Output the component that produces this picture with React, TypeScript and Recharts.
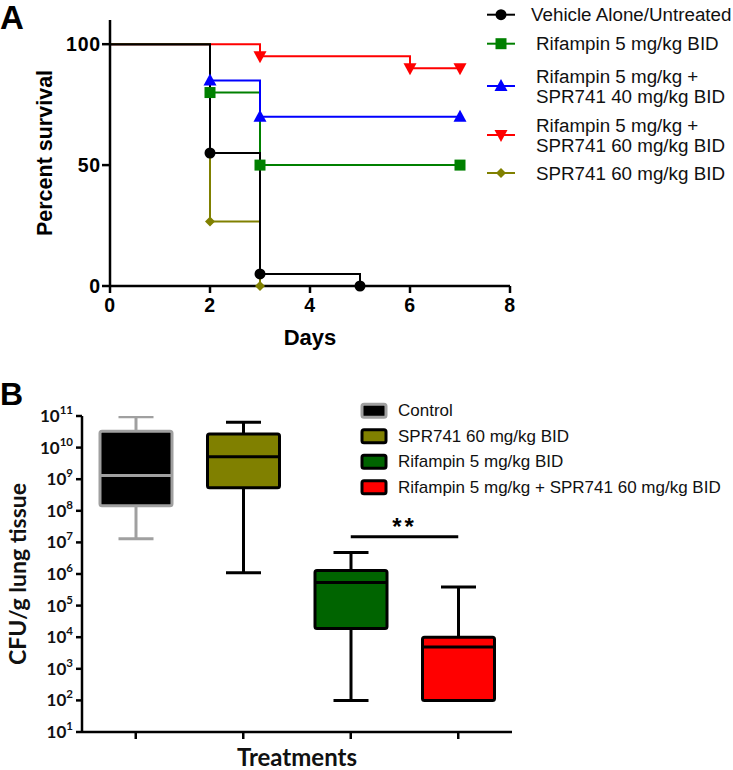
import React from "react";
import { LineChart, Line, XAxis, YAxis, BarChart, Bar, ReferenceLine } from "recharts";

// ---- Panel A: survival ----
const dayTicks = [0, 2, 4, 6, 8];
const survivalTicks = [0, 50, 100];

const vehicleDays = [0, 2, 3, 5];
const vehicleSurvival = [100, 55, 5, 0];
const rif5Days = [0, 2, 3, 7];
const rif5Survival = [100, 80, 50, 50];
const rifSpr40Days = [0, 2, 3, 7];
const rifSpr40Survival = [100, 85, 70, 70];
const rifSpr60Days = [0, 3, 6, 7];
const rifSpr60Survival = [100, 95, 90, 90];
const spr60Days = [0, 2, 3];
const spr60Survival = [100, 26.7, 0];

const survivalSeries = [
  { key: "vehicle", label: ["Vehicle Alone/Untreated"], days: vehicleDays, survival: vehicleSurvival, color: "#000000", marker: "circle" },
  { key: "rif5", label: ["Rifampin 5 mg/kg BID"], days: rif5Days, survival: rif5Survival, color: "#008000", marker: "square" },
  { key: "rifSpr40", label: ["Rifampin 5 mg/kg +", "SPR741 40 mg/kg BID"], days: rifSpr40Days, survival: rifSpr40Survival, color: "#0000ff", marker: "triangle" },
  { key: "rifSpr60", label: ["Rifampin 5 mg/kg +", "SPR741 60 mg/kg BID"], days: rifSpr60Days, survival: rifSpr60Survival, color: "#ff0000", marker: "triangleDown" },
  { key: "spr60", label: ["SPR741 60 mg/kg BID"], days: spr60Days, survival: spr60Survival, color: "#808000", marker: "diamond" },
];
const drawOrder = [1, 2, 3, 4, 0];

// ---- Panel B: CFU box plot ----
const treatments = ["Control", "SPR741 60 mg/kg BID", "Rifampin 5 mg/kg BID", "Rifampin 5 mg/kg + SPR741 60 mg/kg BID"];
const cfuMin = [1.3e7, 1.1e6, 1e2, 1e2];
const cfuQ1 = [1.45e8, 5.4e8, 1.9e4, 1e2];
const cfuMedian = [1.3e9, 5.1e9, 5.4e5, 4.9e3];
const cfuQ3 = [3.3e10, 2.7e10, 1.3e6, 1.0e4];
const cfuMax = [9.5e10, 6.3e10, 4.8e6, 3.9e5];
const boxFill = ["#000000", "#808000", "#006400", "#ff0000"];
const boxStroke = ["#a0a0a0", "#000000", "#000000", "#000000"];
const cfuTicks = [1e1, 1e2, 1e3, 1e4, 1e5, 1e6, 1e7, 1e8, 1e9, 1e10, 1e11];
const sigPair = [treatments[2], treatments[3]];
const sigLevel = 1.5e7;
const sigText = "**";

const arial = "'Liberation Sans', Arial, sans-serif";
const calibri = "Lato, 'Open Sans', sans-serif";

function Marker({ cx, cy, type, color }: { cx: number; cy: number; type: string; color: string }) {
  if (type === "circle") return <circle cx={cx} cy={cy} r={5.5} fill={color} />;
  if (type === "square") return <rect x={cx - 5.5} y={cy - 5.5} width={11} height={11} fill={color} />;
  if (type === "triangle")
    return <polygon points={`${cx},${cy - 7} ${cx - 6.5},${cy + 5} ${cx + 6.5},${cy + 5}`} fill={color} />;
  if (type === "triangleDown")
    return <polygon points={`${cx},${cy + 7} ${cx - 6.5},${cy - 5} ${cx + 6.5},${cy - 5}`} fill={color} />;
  return <polygon points={`${cx},${cy - 5} ${cx + 5},${cy} ${cx},${cy + 5} ${cx - 5},${cy}`} fill={color} />;
}

function SurvivalLegend() {
  const rowY = [14.7, 43.7, 86, 135, 173];
  return (
    <svg width={733} height={200} style={{ position: "absolute", left: 0, top: 0, pointerEvents: "none" }}>
      {survivalSeries.map((s, i) => (
        <g key={s.key}>
          <line x1={487} x2={515} y1={rowY[i]} y2={rowY[i]} stroke={s.color} strokeWidth={2} />
          <Marker cx={501} cy={rowY[i]} type={s.marker} color={s.color} />
          {s.label.map((t, j) => (
            <text
              key={j}
              x={i === 0 ? 531 : 536}
              y={rowY[i] + (s.label.length === 2 ? (j === 0 ? -10 : 10) : 0)}
              dominantBaseline="central"
              fontFamily={arial}
              fontSize={18.8}
              fill="#111"
            >
              {t}
            </text>
          ))}
        </g>
      ))}
    </svg>
  );
}

function CfuLegend() {
  const rowY = [410.7, 436.2, 461.7, 487.2];
  return (
    <svg width={733} height={770} style={{ position: "absolute", left: 0, top: 0, pointerEvents: "none" }}>
      {treatments.map((t, i) => (
        <g key={t}>
          <rect x={362} y={rowY[i] - 6.5} width={24} height={13} rx={2} fill={boxFill[i]} stroke={boxStroke[i]} strokeWidth={3} />
          <text x={398} y={rowY[i]} dominantBaseline="central" fontFamily={arial} fontSize={17} fill="#111">
            {t}
          </text>
        </g>
      ))}
    </svg>
  );
}

function PowerTick(props: any) {
  const { x, y, payload } = props;
  const exp = Math.round(Math.log10(payload.value));
  return (
    <text x={x} y={y + 6} textAnchor="end" fontFamily={calibri} fontWeight="bold" fontSize={17} fill="#111">
      10
      <tspan dy={-8} fontSize={11.5}>
        {exp}
      </tspan>
    </text>
  );
}

function BoxShape(props: any) {
  const { x, y, width, height, index } = props;
  const top = Math.min(y, y + height);
  const bottom = Math.max(y, y + height);
  const hi = Math.log10(cfuMax[index]);
  const lo = Math.log10(cfuMin[index]);
  // log scale: interpolate inside the pixel span that recharts gave for [min, max]
  const yOf = (v: number) => top + ((hi - Math.log10(v)) / (hi - lo)) * (bottom - top);
  const cx = x + width / 2;
  const stroke = boxStroke[index];
  const yQ1 = yOf(cfuQ1[index]);
  const yQ3 = yOf(cfuQ3[index]);
  const yMed = yOf(cfuMedian[index]);
  return (
    <g>
      <line x1={cx} x2={cx} y1={top} y2={yQ3} stroke={stroke} strokeWidth={3} />
      <line x1={cx} x2={cx} y1={yQ1} y2={bottom} stroke={stroke} strokeWidth={3} />
      <line x1={cx - 17.5} x2={cx + 17.5} y1={top} y2={top} stroke={stroke} strokeWidth={3} />
      <line x1={cx - 17.5} x2={cx + 17.5} y1={bottom} y2={bottom} stroke={stroke} strokeWidth={3} />
      <rect x={x} y={yQ3} width={width} height={yQ1 - yQ3} rx={2} fill={boxFill[index]} stroke={stroke} strokeWidth={3} />
      <line x1={x} x2={x + width} y1={yMed} y2={yMed} stroke={stroke} strokeWidth={3} />
    </g>
  );
}

export default function App() {
  const cfuData = treatments.map((name, i) => ({ name, range: [cfuMin[i], cfuMax[i]] }));
  const emptyDot = (p: any) => <g key={`e-${p.index}`} />;

  return (
    <div style={{ position: "absolute", left: 0, top: 0, width: 733, height: 770, background: "#fff", overflow: "hidden" }}>
      <div style={{ position: "absolute", left: 0, top: 0 }}>
        <LineChart width={733} height={360} margin={{ top: 20, right: 223, left: 0, bottom: 14 }}>
          <XAxis
            dataKey="x"
            type="number"
            domain={[0, 8]}
            ticks={dayTicks}
            allowDuplicatedCategory={false}
            stroke="#000"
            strokeWidth={2.5}
            tickSize={7}
            tickMargin={5}
            height={60}
            tick={{ fill: "#000", fontFamily: arial, fontWeight: "bold", fontSize: 19.5, letterSpacing: 0.8 }}
            label={{ value: "Days", position: "insideBottom", offset: 1, fill: "#000", fontFamily: arial, fontWeight: "bold", fontSize: 22 }}
          />
          <YAxis
            type="number"
            domain={[0, 110]}
            ticks={survivalTicks}
            stroke="#000"
            strokeWidth={2.5}
            width={110}
            tickSize={8}
            tickMargin={1}
            tick={{ fill: "#000", fontFamily: arial, fontWeight: "bold", fontSize: 19.5, letterSpacing: 0.8 }}
            label={{
              value: "Percent survival",
              angle: -90,
              position: "insideLeft",
              offset: 44,
              fill: "#000",
              fontFamily: arial,
              fontWeight: "bold",
              fontSize: 21.5,
              style: { textAnchor: "middle" },
            }}
          />
          {drawOrder.map((k) => {
            const s = survivalSeries[k];
            const pts = s.days.map((d, i) => ({ x: d, y: s.survival[i] }));
            return (
              <Line
                key={s.key}
                data={pts}
                dataKey="y"
                type="stepAfter"
                stroke={s.color}
                strokeWidth={2}
                isAnimationActive={false}
                activeDot={false}
                dot={(p: any) =>
                  p.index === 0 ? emptyDot(p) : (
                    <g key={`d-${p.index}`}>
                      <Marker cx={p.cx} cy={p.cy} type={s.marker} color={s.color} />
                    </g>
                  )
                }
              />
            );
          })}
        </LineChart>
      </div>
      <SurvivalLegend />

      <div style={{ position: "absolute", left: 0, top: 380 }}>
        <BarChart width={733} height={390} data={cfuData} margin={{ top: 36, right: 221, left: 0, bottom: 0 }} barSize={72}>
          <XAxis
            dataKey="name"
            stroke="#000"
            strokeWidth={2.5}
            tickSize={7}
            height={38}
            tickFormatter={() => ""}
            label={{ value: "Treatments", position: "insideBottom", offset: 4, fill: "#111", fontFamily: calibri, fontWeight: "bold", fontSize: 24 }}
          />
          <YAxis
            type="number"
            scale="log"
            domain={[1e1, 1e11]}
            ticks={cfuTicks}
            allowDataOverflow
            stroke="#000"
            strokeWidth={2.5}
            width={82}
            tickSize={6}
            tickMargin={3}
            tick={<PowerTick />}
            label={{
              value: "CFU/g lung tissue",
              angle: -90,
              position: "insideLeft",
              offset: 18,
              fill: "#111",
              fontFamily: calibri,
              fontWeight: "bold",
              fontSize: 23,
              style: { textAnchor: "middle" },
            }}
          />
          <Bar dataKey="range" shape={<BoxShape />} isAnimationActive={false} />
          <ReferenceLine
            segment={[
              { x: sigPair[0], y: sigLevel },
              { x: sigPair[1], y: sigLevel },
            ]}
            stroke="#000"
            strokeWidth={3}
            label={{ value: sigText, position: "top", offset: 2, fill: "#000", fontFamily: arial, fontWeight: "bold", fontSize: 24, letterSpacing: 3 }}
          />
        </BarChart>
      </div>
      <CfuLegend />

      <svg width={733} height={770} style={{ position: "absolute", left: 0, top: 0, pointerEvents: "none" }}>
        <text x={0} y={29} fontFamily={arial} fontWeight="bold" fontSize={33} fill="#000">A</text>
        <text x={0} y={405} fontFamily={arial} fontWeight="bold" fontSize={32} fill="#000">B</text>
      </svg>
    </div>
  );
}
